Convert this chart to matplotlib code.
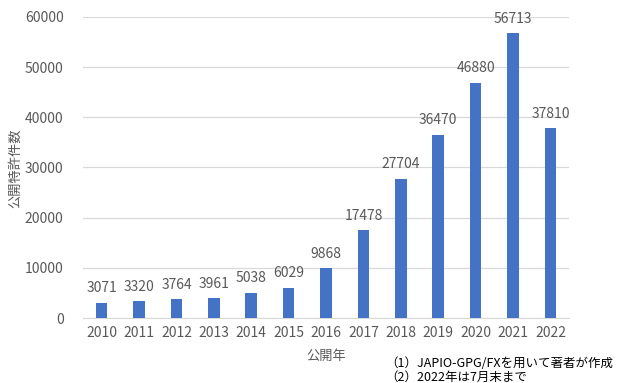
import matplotlib.pyplot as plt

plt.rcParams['font.family'] = ['Noto Sans CJK JP', 'DejaVu Sans']

years = ['2010', '2011', '2012', '2013', '2014', '2015', '2016',
         '2017', '2018', '2019', '2020', '2021', '2022']
counts = [3071, 3320, 3764, 3961, 5038, 6029, 9868,
          17478, 27704, 36470, 46880, 56713, 37810]

grey = '#595959'

fig = plt.figure(figsize=(6.17, 3.83), dpi=100)
ax = fig.add_axes([0.1345, 0.1697, 0.788, 0.786])

x = range(len(years))
ax.bar(x, counts, width=0.31, color='#4472C4', zorder=3)
for xi, v in zip(x, counts):
    ax.text(xi, v + 1500, str(v), ha='center', va='bottom', fontsize=10, color=grey)

ax.set_xlim(-0.5, len(years) - 0.5)
ax.set_ylim(0, 60000)
ax.set_yticks(range(0, 60001, 10000))
ax.set_xticks(list(x))
ax.set_xticklabels(years)
ax.tick_params(axis='both', length=0, labelsize=10, labelcolor=grey)
ax.tick_params(axis='y', pad=14)
ax.tick_params(axis='x', pad=6)
ax.grid(axis='y', color='#D9D9D9', linewidth=0.9, zorder=0)
for s in ['top', 'right', 'left']:
    ax.spines[s].set_visible(False)
ax.spines['bottom'].set_color('#D9D9D9')

# axis titles
fig.text(0.026, 0.561, '公開特許件数', fontsize=9.5, color=grey,
         rotation=90, ha='center', va='center')
fig.text(0.528, 0.07, '公開年', fontsize=9.5, color=grey, ha='center', va='center')

# notes
fig.text(0.624, 0.052, '（1）JAPIO-GPG/FXを用いて著者が作成', fontsize=9, color='black', va='center')
fig.text(0.624, 0.014, '（2）2022年は7月末まで', fontsize=9, color='black', va='center')

fig.savefig('out.png', dpi=100)
